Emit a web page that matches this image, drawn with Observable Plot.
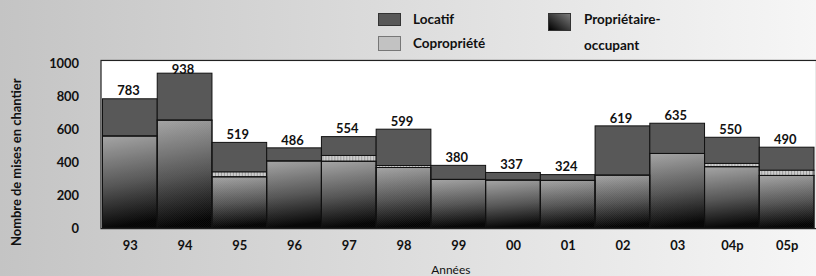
<!DOCTYPE html>
<html>
<head>
<meta charset="utf-8">
<script src="https://cdn.jsdelivr.net/npm/d3@7"></script>
<script src="https://cdn.jsdelivr.net/npm/@observablehq/plot@0.6"></script>
<style>
html, body { margin: 0; padding: 0; width: 816px; height: 276px; overflow: hidden; }
body { background: linear-gradient(to right, #c4c4c4, #f6f6f6); font-family: Lato, "Open Sans", sans-serif; position: relative; }
#legend { position: relative; width: 816px; height: 52px; }
.sw { position: absolute; width: 23px; box-sizing: border-box; border: 1px solid #333; }
.lt { position: absolute; font-weight: bold; font-size: 13.5px; color: #111; line-height: 14px; }
#chart svg { display: block; overflow: visible; }
</style>
</head>
<body>
<div id="legend">
  <div class="sw" style="left:378px; top:13px; height:13px; background:#585858;"></div>
  <div class="lt" style="left:413px; top:12px;">Locatif</div>
  <div class="sw" style="left:378px; top:36px; height:15px; background:#c2c2c2; border-color:#777;"></div>
  <div class="lt" style="left:413px; top:36px;">Copropriété</div>
  <div class="sw" style="left:548px; top:13px; height:18px; background:linear-gradient(to top right, #000, #7a7a7a);"></div>
  <div class="lt" style="left:584px; top:12px;">Propriétaire-</div>
  <div class="lt" style="left:584px; top:38px;">occupant</div>
</div>
<div id="chart"></div>
<script>
// ---- data ----
const years = ["93", "94", "95", "96", "97", "98", "99", "00", "01", "02", "03", "04p", "05p"];
const totals = [783, 938, 519, 486, 554, 599, 380, 337, 324, 619, 635, 550, 490];
const proprietaire = [558, 654, 311, 407, 405, 367, 295, 291, 289, 321, 452, 372, 319];
const copropriete = [0, 0, 30, 0, 35, 12, 0, 0, 0, 0, 0, 20, 32];
const locatif = [225, 284, 178, 79, 114, 220, 85, 46, 35, 298, 183, 158, 139];
const seriesNames = ["Propriétaire-occupant", "Copropriété", "Locatif"];
const yTicks = [0, 200, 400, 600, 800, 1000];
const yLabel = "Nombre de mises en chantier";
const xLabel = "Années";

// ---- tables ----
const rows = [];
years.forEach((yr, i) => {
  rows.push({year: yr, series: seriesNames[0], value: proprietaire[i]});
  rows.push({year: yr, series: seriesNames[1], value: copropriete[i]});
  rows.push({year: yr, series: seriesNames[2], value: locatif[i]});
});
const totalRows = years.map((yr, i) => ({year: yr, total: totals[i]}));
const propRows = rows.filter(d => d.series === seriesNames[0]);

const chart = Plot.plot({
  width: 820,
  height: 224,
  marginTop: 8,
  marginBottom: 47,
  marginLeft: 101,
  marginRight: 0,
  style: {background: "transparent", fontFamily: "Lato, 'Open Sans', sans-serif", fontSize: "13px", fontWeight: "bold", color: "#111"},
  x: {domain: years, padding: 0, label: null, tickSize: 0, tickPadding: 12},
  y: {domain: [0, 1018], ticks: yTicks, tickFormat: d => String(d), label: null, tickSize: 0, tickPadding: 22},
  color: {type: "ordinal", domain: seriesNames, range: ["url(#gProp)", "url(#pCopro)", "#585858"]},
  marks: [
    Plot.frame({fill: "white", stroke: null}),
    Plot.barY(rows, {x: "year", y: "value", fill: "series", stroke: "#111", strokeWidth: 1}),
    Plot.barY(propRows, {x: "year", y: "value", fill: "url(#pHatch)", stroke: "#111", strokeWidth: 1}),
    Plot.text(totalRows.filter(d => d.year !== "94"), {x: "year", y: "total", text: "total", dy: -8, dx: -2, fontWeight: "bold", fontSize: 13, fill: "#111"}),
    Plot.text(totalRows.filter(d => d.year === "94"), {x: "year", y: "total", text: "total", dy: -4, dx: -2, fontWeight: "bold", fontSize: 13, fill: "#111"}),
    Plot.frame({stroke: "#222", strokeWidth: 1.2})
  ]
});

const svg = d3.select(chart);
const defs = svg.insert("defs", ":first-child");
const g = defs.append("linearGradient").attr("id", "gProp")
  .attr("x1", 0.1).attr("y1", 1).attr("x2", 0).attr("y2", 0);
g.append("stop").attr("offset", 0).attr("stop-color", "#000");
g.append("stop").attr("offset", 0.45).attr("stop-color", "#545454");
g.append("stop").attr("offset", 1).attr("stop-color", "#a8a8a8");
const h = defs.append("pattern").attr("id", "pHatch").attr("patternUnits", "userSpaceOnUse")
  .attr("width", 2).attr("height", 2);
h.append("path").attr("d", "M0,2 L2,0").attr("stroke", "rgba(255,255,255,0.09)").attr("stroke-width", 0.7);
h.append("path").attr("d", "M0,0 L2,2").attr("stroke", "rgba(0,0,0,0.09)").attr("stroke-width", 0.7);
const c = defs.append("pattern").attr("id", "pCopro").attr("patternUnits", "userSpaceOnUse")
  .attr("width", 3).attr("height", 3);
c.append("rect").attr("width", 3).attr("height", 3).attr("fill", "#cdcdcd");
c.append("rect").attr("width", 1).attr("height", 3).attr("fill", "#9a9a9a");

const ys = chart.scale("y");
const yRange = ys.range;
// y axis title
svg.append("text")
  .attr("transform", `translate(21,${yRange[0] + 18}) rotate(-90)`)
  .attr("text-anchor", "start")
  .attr("font-size", 13).attr("font-weight", "bold").attr("fill", "#111")
  .text(yLabel);
// x axis title
svg.append("text")
  .attr("x", 453).attr("y", yRange[0] + 46)
  .attr("text-anchor", "middle")
  .attr("font-size", 12).attr("font-weight", "normal").attr("fill", "#111")
  .text(xLabel);

document.getElementById("chart").appendChild(chart);
</script>
</body>
</html>
